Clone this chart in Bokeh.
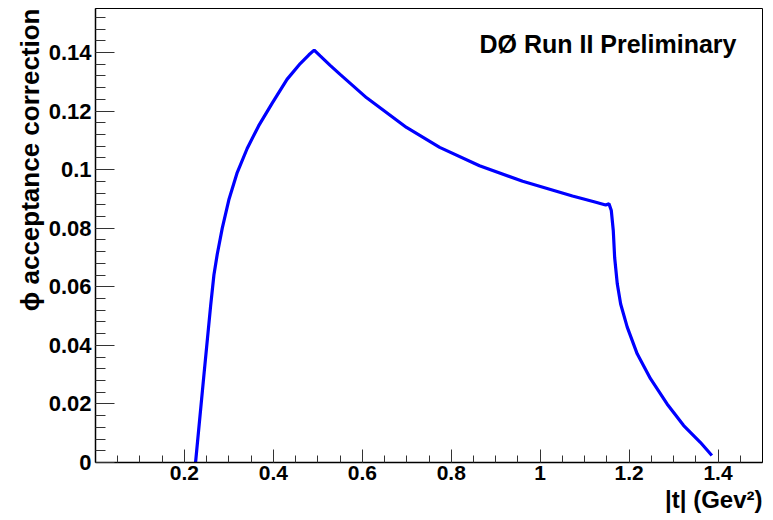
from bokeh.plotting import figure
from bokeh.models import Label, FixedTicker, Title
from bokeh.embed import file_html
from bokeh.resources import INLINE

# data
t_vals = [0.225, 0.2439, 0.2589, 0.2663, 0.2739, 0.2851, 0.2999, 0.3187, 0.3411, 0.3671,
          0.3971, 0.4307, 0.4605, 0.4800, 0.4918, 0.5053, 0.5277, 0.5501, 0.6098, 0.6994,
          0.774, 0.8636, 0.9606, 1.0726, 1.1211, 1.1473, 1.1548, 1.16, 1.1644, 1.1675,
          1.1734, 1.181, 1.1958, 1.2182, 1.2481, 1.2854, 1.3227, 1.3601, 1.3861]
acc_vals = [0.0, 0.0300, 0.0535, 0.0640, 0.0712, 0.0800, 0.0897, 0.0990, 0.1072, 0.1150,
            0.1226, 0.1308, 0.1362, 0.1392, 0.1408, 0.1388, 0.1356, 0.1325, 0.1245, 0.1144,
            0.1076, 0.1013, 0.0960, 0.0910, 0.0890, 0.0879, 0.0883, 0.0860, 0.0792, 0.0700,
            0.0610, 0.0541, 0.0462, 0.0371, 0.0286, 0.0200, 0.0126, 0.0069, 0.0024]

x_major = [0.2, 0.4, 0.6, 0.8, 1.0, 1.2, 1.4]
x_labels = ["0.2", "0.4", "0.6", "0.8", "1", "1.2", "1.4"]
y_major = [0.0, 0.02, 0.04, 0.06, 0.08, 0.10, 0.12, 0.14]
y_labels = ["0", "0.02", "0.04", "0.06", "0.08", "0.1", "0.12", "0.14"]

FONT = "Liberation Sans"

p = figure(width=770, height=518, x_range=(0, 1.5), y_range=(0, 0.155),
           output_backend="svg", toolbar_location=None,
           min_border_left=95, min_border_right=8, min_border_top=8, min_border_bottom=56)
p.grid.visible = False
p.outline_line_color = "black"
p.outline_line_width = 1
p.background_fill_color = "white"
p.border_fill_color = "white"

p.line(t_vals, acc_vals, line_color="#0000ff", line_width=3.2)

xa = p.xaxis[0]
xa.ticker = FixedTicker(ticks=x_major, minor_ticks=[i * 0.05 for i in range(1, 30)])
xa.major_label_overrides = {v: s for v, s in zip(x_major, x_labels)}
xa.major_tick_in = 13
xa.major_tick_out = 0
xa.minor_tick_in = 7
xa.minor_tick_out = 0
xa.major_label_standoff = 3
xa.major_label_text_font = FONT
xa.major_label_text_font_style = "bold"
xa.major_label_text_font_size = "21px"
xa.major_label_text_color = "black"
xa.axis_line_color = "black"
xa.axis_line_width = 1.5
xa.major_tick_line_color = "#333333"
xa.minor_tick_line_color = "#333333"

ya = p.yaxis[0]
ya.ticker = FixedTicker(ticks=y_major, minor_ticks=[i * 0.004 for i in range(0, 39)])
ya.major_label_overrides = {v: s for v, s in zip(y_major, y_labels)}
ya.major_tick_in = 19
ya.major_tick_out = 0
ya.minor_tick_in = 10
ya.minor_tick_out = 0
ya.major_label_standoff = 4
ya.major_label_text_font = FONT
ya.major_label_text_font_style = "bold"
ya.major_label_text_font_size = "22px"
ya.major_label_text_color = "black"
ya.axis_line_color = "black"
ya.axis_line_width = 1.5
ya.major_tick_line_color = "#333333"
ya.minor_tick_line_color = "#333333"

ytitle = Title(text="\u03d5 acceptance correction", align="right",
               text_font=FONT, text_font_style="bold", text_font_size="26px",
               text_color="black", standoff=1, offset=0)
p.add_layout(ytitle, "left")

xtitle = Title(text="|t| (Gev\u00b2)", align="right",
               text_font=FONT, text_font_style="bold", text_font_size="24px",
               text_color="black", standoff=3, offset=0)
p.add_layout(xtitle, "below")

tag = Label(x=1.4415, y=0.1430, text="D\u00d8 Run II Preliminary",
            text_align="right", text_baseline="alphabetic",
            text_font=FONT, text_font_style="bold", text_font_size="25px",
            text_color="black")
p.add_layout(tag)

open("out.html", "w").write(file_html(p, INLINE))
